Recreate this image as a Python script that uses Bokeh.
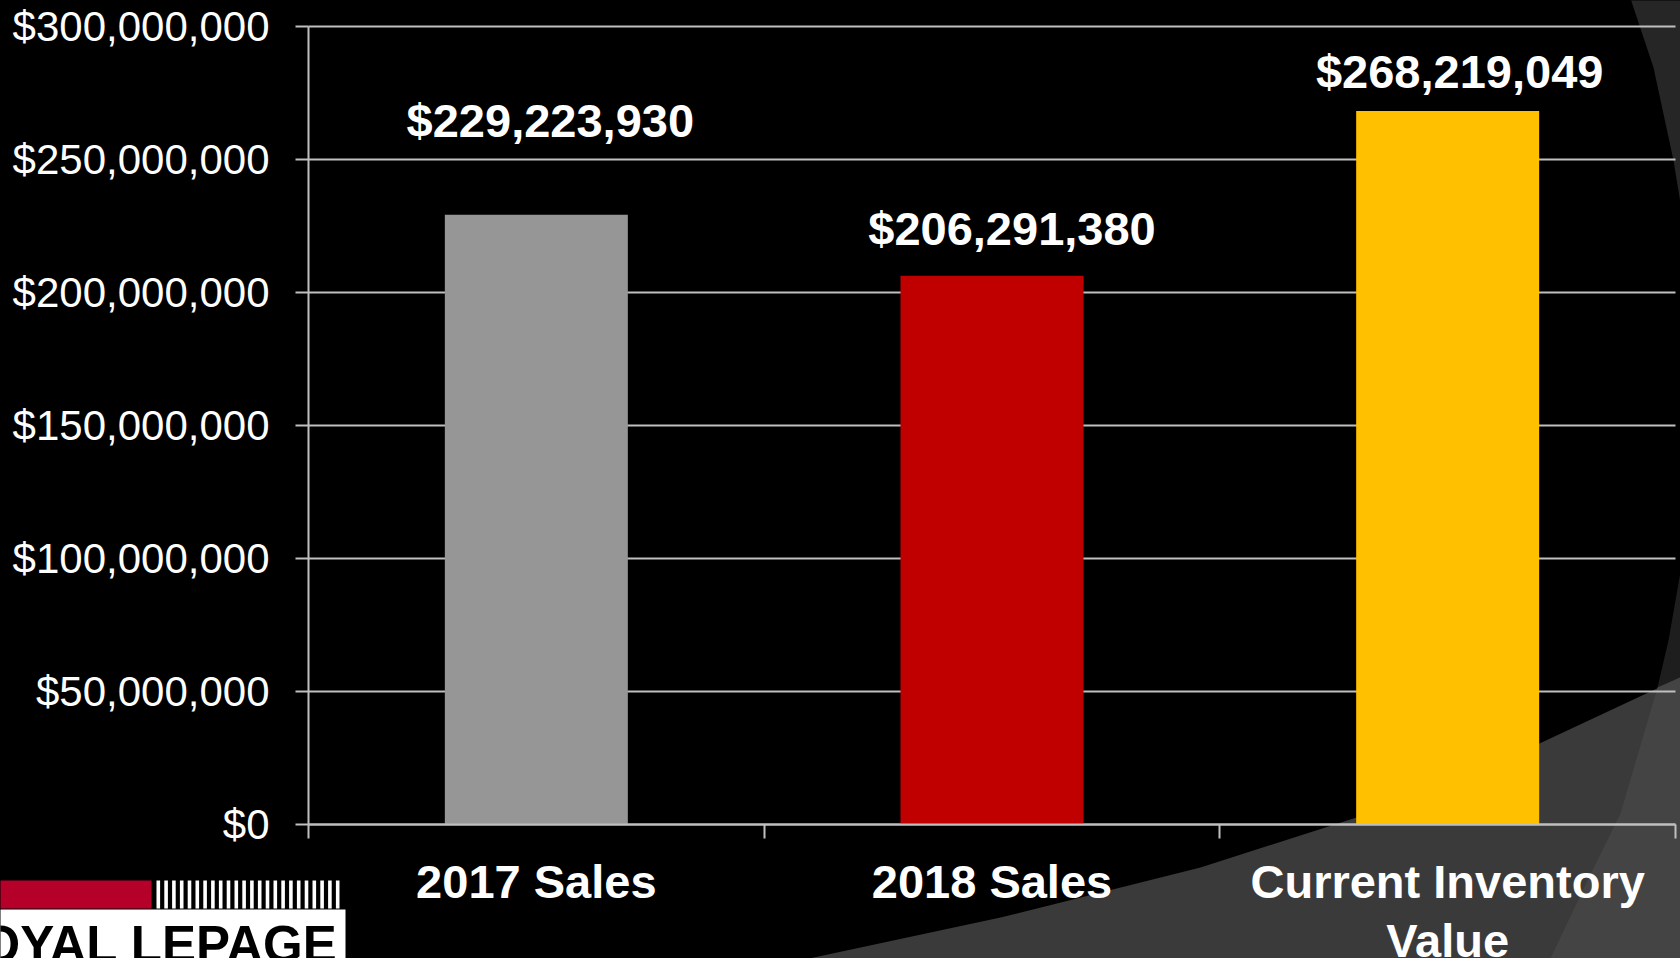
from bokeh.plotting import figure
from bokeh.models import (ColumnDataSource, Range1d, FixedTicker, NumeralTickFormatter,
                          PolyAnnotation, Label, GlobalInlineStyleSheet)
from bokeh.core.properties import value
from bokeh.embed import file_html
from bokeh.resources import INLINE

# ---------------- data ----------------
categories = ["2017 Sales", "2018 Sales", "Current Inventory\nValue"]
values = [229223930, 206291380, 268219049]
value_labels = ["$229,223,930", "$206,291,380", "$268,219,049"]
bar_colors = ["#969696", "#C00000", "#FFC000"]
y_ticks = [0, 50_000_000, 100_000_000, 150_000_000, 200_000_000, 250_000_000, 300_000_000]

# label nudges (screen px) as placed on the original slide
label_dx_px = [14, 20, 12]
label_dy_px = [-94, -47, -40]

# ---------------- layout constants (page pixels) ----------------
W, H = 1680, 958
AX_L, AX_R, AX_T, AX_B = 308, 1675, 26, 824   # where the value axes sit
Y_MAX = 300_000_000
N = len(categories)
GRID = "#bfbfbf"
FONT = "Liberation Sans"

PX_PER_X = (AX_R - AX_L) / N
def ux(px):
    return (px - AX_L) / PX_PER_X
def uy(py):
    return (AX_B - py) * Y_MAX / (AX_B - AX_T)

p = figure(width=W, height=H,
           x_range=Range1d(ux(0), ux(W)), y_range=Range1d(uy(H), uy(0)),
           min_border=0, output_backend="svg", toolbar_location=None)
p.stylesheets = [GlobalInlineStyleSheet(
    css="html, body {margin:0 !important; padding:0; background:#000; overflow:hidden;}")]
p.background_fill_color = "black"
p.border_fill_color = "black"
p.outline_line_color = None
p.xgrid.visible = False
p.ygrid.visible = False

def poly(pts, color, level="underlay"):
    return PolyAnnotation(xs=[ux(a) for a, b in pts], ys=[uy(b) for a, b in pts],
                          fill_color=color, fill_alpha=1.0, line_color=None,
                          level=level)

# background swooshes of the slide theme
for shape in [
    poly([(1630, -2), (1653, 67), (1673, 160), (1682, 215), (1682, -2)], "#262626"),
    poly([(1682, 560), (1668, 640), (1657, 687), (1620, 813), (1587, 880),
          (1548, 962), (1682, 962)], "#1e1e1e"),
    poly([(790, 962), (1000, 917), (1200, 867), (1356, 817), (1539, 743),
          (1682, 676), (1682, 962)], "#3a3a3a"),
    poly([(1657, 687), (1620, 813), (1587, 880), (1548, 962), (1682, 962),
          (1682, 676)], "#444444"),
]:
    p.add_layout(shape)

# ---------------- axes ----------------
positions = [i + 0.5 for i in range(N)]
boundaries = [float(i) for i in range(N + 1)]

xa = p.xaxis[0]
xa.fixed_location = 0
xa.bounds = (0, N)
xa.ticker = FixedTicker(ticks=positions, minor_ticks=boundaries)
xa.major_label_overrides = {pos: cat for pos, cat in zip(positions, categories)}
xa.axis_line_color = GRID
xa.axis_line_width = 2
xa.major_tick_out = 0
xa.major_tick_in = 0
xa.minor_tick_out = 14
xa.minor_tick_in = 0
xa.minor_tick_line_color = GRID
xa.minor_tick_line_width = 2
xa.major_label_text_color = "white"
xa.major_label_text_font = FONT
xa.major_label_text_font_style = "bold"
xa.major_label_text_font_size = "47px"
xa.major_label_text_line_height = 1.13
xa.major_label_standoff = 16

ya = p.yaxis[0]
ya.fixed_location = 0
ya.bounds = (0, Y_MAX)
ya.ticker = FixedTicker(ticks=y_ticks, minor_ticks=[])
ya.formatter = NumeralTickFormatter(format="$0,0")
ya.axis_line_color = GRID
ya.axis_line_width = 2
ya.major_tick_out = 13
ya.major_tick_in = 0
ya.major_tick_line_color = GRID
ya.major_tick_line_width = 2
ya.minor_tick_out = 0
ya.minor_tick_in = 0
ya.major_label_text_color = "white"
ya.major_label_text_font = FONT
ya.major_label_text_font_size = "42px"
ya.major_label_standoff = 26

# horizontal gridlines at the value ticks, spanning the category axis
p.segment(x0=[0] * len(y_ticks), x1=[N] * len(y_ticks), y0=y_ticks, y1=y_ticks,
          line_color=GRID, line_width=2)

# ---------------- bars & labels ----------------
src = ColumnDataSource(dict(x=positions, value=values, label=value_labels,
                            color=bar_colors, dx=label_dx_px, dy=label_dy_px))
p.vbar(x="x", top="value", width=0.4016, fill_color="color", line_color=None, source=src)
p.text(x="x", y="value", text="label", x_offset="dx", y_offset="dy",
       text_align="center", text_baseline="alphabetic",
       text_font=value(FONT), text_font_style="bold", text_font_size="47px",
       text_color="white", source=src)

# ---------------- logo (bottom-left) ----------------
logo = [poly([(-2, 909), (345, 909), (345, 962), (-2, 962)], "white", "annotation"),
        poly([(-2, 880), (151, 880), (151, 908), (-2, 908)], "#B5002A", "annotation")]
for i in range(24):
    x0 = 156 + i * 7.8
    logo.append(poly([(x0, 880), (x0 + 3.6, 880), (x0 + 3.6, 908), (x0, 908)],
                     "white", "annotation"))
for a in logo:
    p.add_layout(a)
p.add_layout(Label(x=ux(-20), y=uy(944), text="OYAL LEPAGE", text_align="left",
                   text_baseline="alphabetic", text_font=FONT, text_font_style="bold",
                   text_font_size="51px", text_color="black"))

open("out.html", "w").write(file_html(p, INLINE))
